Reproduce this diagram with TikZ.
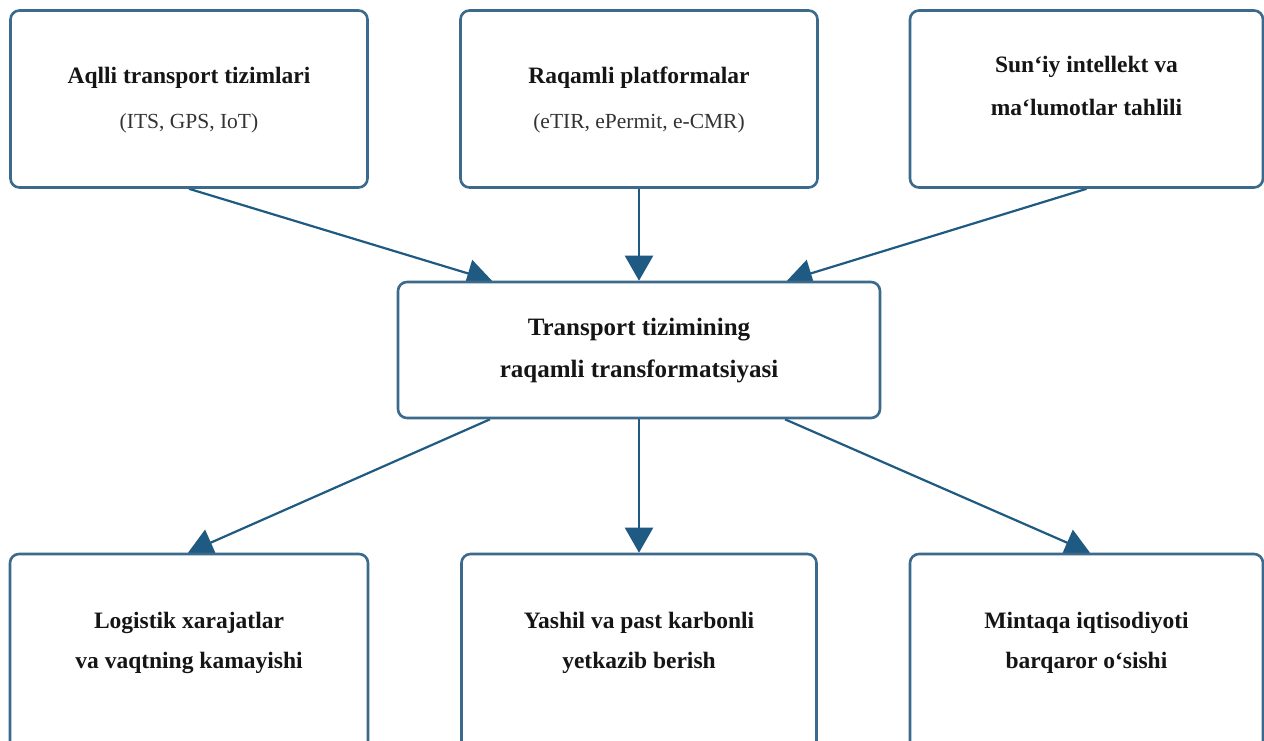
\documentclass[tikz,border=0pt]{standalone}
\usepackage{fontspec}
\setmainfont{Liberation Serif}
\usetikzlibrary{arrows.meta,calc,backgrounds}
\definecolor{boxc}{HTML}{3B6A8C}
\definecolor{arrc}{HTML}{1F5A82}
\definecolor{subc}{HTML}{333333}
\definecolor{txtc}{HTML}{151515}
\begin{document}
\begin{tikzpicture}[x=1pt,y=-1pt,
 box/.style={draw=boxc, line width=2.6pt, rounded corners=9pt, fill=white, inner sep=0pt},
 ttl/.style={anchor=base, font=\fontsize{23.5}{28}\selectfont\bfseries, text=txtc, inner sep=0pt},
 subt/.style={anchor=base, font=\fontsize{21.5}{26}\selectfont, text=subc, inner sep=0pt},
 ctl/.style={anchor=base, font=\fontsize{25}{30}\selectfont\bfseries, text=txtc, inner sep=0pt},
 conn/.style={draw=arrc, line width=2.2pt, -{Triangle[length=25pt,width=28pt]}}]
\useasboundingbox (0,0) rectangle (1264,740);
% boxes
\node[box, minimum width=357pt, minimum height=177pt] (tl) at (189,99) {};
\node[box, minimum width=357pt, minimum height=177pt] (tm) at (639,99) {};
\node[box, minimum width=353pt, minimum height=177pt] (tr) at (1086.5,99) {};
\node[box, minimum width=482pt, minimum height=136pt] (c) at (639,350) {};
\node[box, minimum width=358pt, minimum height=200pt] (bl) at (189,654) {};
\node[box, minimum width=355pt, minimum height=200pt] (bm) at (639,654) {};
\node[box, minimum width=353pt, minimum height=200pt] (br) at (1086.5,654) {};
% texts
\node[ttl] (tlA) at (189,83) {Aqlli transport tizimlari};
\node[subt] (tlB) at (189,128) {(ITS, GPS, IoT)};
\node[ttl] (tmA) at (639,83) {Raqamli platformalar};
\node[subt] (tmB) at (639,128) {(eTIR, ePermit, e-CMR)};
\node[ttl] (trA) at (1086.5,72) {Sun‘iy intellekt va};
\node[ttl] (trB) at (1086.5,115) {ma‘lumotlar tahlili};
\node[ctl] (cA) at (639,335) {Transport tizimining};
\node[ctl] (cB) at (639,377) {raqamli transformatsiyasi};
\node[ttl] (blA) at (189,628) {Logistik xarajatlar};
\node[ttl] (blB) at (189,668) {va vaqtning kamayishi};
\node[ttl] (bmA) at (639,628) {Yashil va past karbonli};
\node[ttl] (bmB) at (639,668) {yetkazib berish};
\node[ttl] (brA) at (1086.5,628) {Mintaqa iqtisodiyoti};
\node[ttl] (brB) at (1086.5,668) {barqaror o‘sishi};
% connectors (behind boxes)
\begin{scope}[on background layer]
\fill[white] (0,0) rectangle (1264,740);
\draw[conn] (tl.south) -- ([xshift=-147pt]c.north);
\draw[conn] (tm.south) -- (c.north);
\draw[conn] (tr.south) -- ([xshift=148pt]c.north);
\draw[conn] ([xshift=-149pt]c.south) -- ([xshift=-1pt]bl.north);
\draw[conn] (c.south) -- (bm.north);
\draw[conn] ([xshift=146pt]c.south) -- ([xshift=3.5pt]br.north);
\end{scope}
\end{tikzpicture}
\end{document}
